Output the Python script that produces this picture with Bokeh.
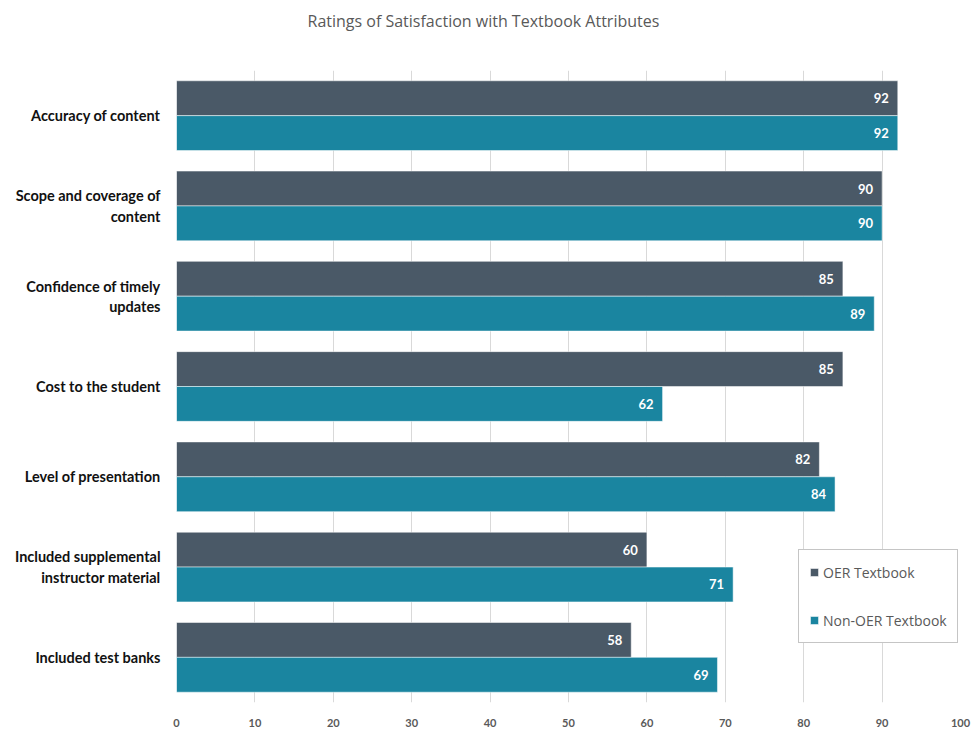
from bokeh.plotting import figure
from bokeh.models import Range1d, ColumnDataSource, FixedTicker, Legend, LegendItem, LabelSet, Title
from bokeh.embed import file_html
from bokeh.resources import INLINE
from bokeh.core.properties import value

title_text = "Ratings of Satisfaction with Textbook Attributes"
categories = ["Accuracy of content", "Scope and coverage of\ncontent", "Confidence of timely\nupdates",
              "Cost to the student", "Level of presentation", "Included supplemental\ninstructor material",
              "Included test banks"]
oer = [92, 90, 85, 85, 82, 60, 58]
non_oer = [92, 90, 89, 62, 84, 71, 69]
x_ticks = [0, 10, 20, 30, 40, 50, 60, 70, 80, 90, 100]

n = len(categories)
centers = [n - 0.5 - i for i in range(n)]
bh = 0.386

src_o = ColumnDataSource(dict(y=[c + bh / 2 for c in centers], v=oer, t=[str(v) for v in oer]))
src_n = ColumnDataSource(dict(y=[c - bh / 2 for c in centers], v=non_oer, t=[str(v) for v in non_oer]))

p = figure(width=973, height=729, output_backend="svg", toolbar_location=None,
           x_range=Range1d(0, 100), y_range=Range1d(0, n),
           min_border_left=176, min_border_right=13, min_border_bottom=24, min_border_top=70)

p.title.text = title_text
p.title.align = "left"
p.title.offset = 131
p.title.standoff = 10
p.title.text_font = "Open Sans"
p.title.text_font_size = "16px"
p.title.text_font_style = "normal"
p.title.text_color = "#595959"

# empty spacer between the title and the plot area
p.add_layout(Title(text=" ", text_font_size="1px", standoff=31), "above")

ro = p.hbar(y="y", right="v", left=0, height=bh, source=src_o, color="#4A5967", line_color="white", line_width=0.5)
rn = p.hbar(y="y", right="v", left=0, height=bh, source=src_n, color="#1A85A0", line_color="white", line_width=0.5)

for s in (src_o, src_n):
    p.add_layout(LabelSet(x="v", y="y", text="t", source=s, x_offset=-9, text_align="right",
                          text_baseline="middle", text_color="white", text_font=value("Lato"),
                          text_font_style="bold", text_font_size="13px"))

p.outline_line_color = None
p.ygrid.grid_line_color = None
p.xgrid.grid_line_color = "#D9D9D9"
p.xgrid.ticker = FixedTicker(ticks=x_ticks)
p.xaxis.ticker = FixedTicker(ticks=x_ticks)
p.xaxis.axis_line_color = None
p.xaxis.major_tick_line_color = None
p.xaxis.minor_tick_line_color = None
p.xaxis.major_label_text_font = "Lato"
p.xaxis.major_label_text_font_style = "bold"
p.xaxis.major_label_text_font_size = "11px"
p.xaxis.major_label_text_color = "#595959"
p.xaxis.major_label_standoff = 10

p.yaxis.ticker = FixedTicker(ticks=centers)
p.yaxis.major_label_overrides = {c: lab for c, lab in zip(centers, categories)}
p.yaxis.axis_line_color = None
p.yaxis.major_tick_line_color = None
p.yaxis.minor_tick_line_color = None
p.yaxis.major_label_text_font = "Lato"
p.yaxis.major_label_text_font_style = "bold"
p.yaxis.major_label_text_font_size = "14.5px"
p.yaxis.major_label_text_color = "#111111"
p.yaxis.major_label_standoff = 10

legend = Legend(items=[LegendItem(label="OER Textbook", renderers=[ro]),
                       LegendItem(label="Non-OER Textbook", renderers=[rn])],
                location=(622, 59), orientation="vertical",
                label_text_font="Open Sans", label_text_font_size="14px", label_text_color="#595959",
                glyph_width=10, glyph_height=10, label_height=24, spacing=24, padding=10, margin=0,
                border_line_color="#8C8C8C", border_line_width=1, background_fill_alpha=1,
                label_standoff=4)
p.add_layout(legend)

open("out.html", "w").write(file_html(p, INLINE))
